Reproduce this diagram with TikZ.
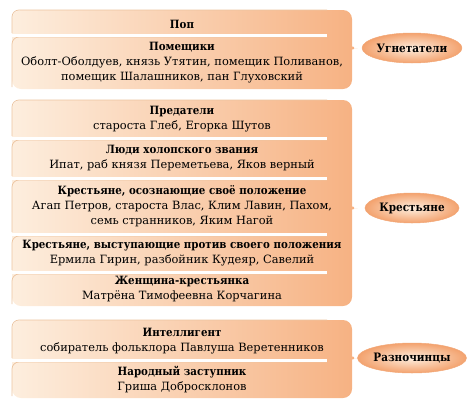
\documentclass[tikz,border=0pt]{standalone}
\usepackage{fontspec}
\setmainfont{DejaVu Serif}[BoldFeatures={FakeStretch=0.9}]
\usetikzlibrary{positioning,shapes.geometric}

\definecolor{peachL}{RGB}{253,238,222}
\definecolor{peachR}{RGB}{246,176,128}
\definecolor{peachLine}{RGB}{236,196,160}
\definecolor{peachEdge}{RGB}{242,168,120}
\definecolor{peachO}{RGB}{243,162,110}

\newcommand\head[1]{\textbf{#1}}

\tikzset{
  grp/.style={left color=peachL, right color=peachR, rounded corners=9},
  sep/.style={white, line width=3pt},
  tab/.style={peachLine, line width=0.7pt, rounded corners=7},
  item/.style={align=center, inner sep=0pt, font=\fontsize{11.4}{15}\selectfont},
  kind/.style={ellipse, minimum width=94pt, minimum height=30pt, inner sep=0pt,
    draw=peachEdge, line width=0.5pt, inner color=peachL, outer color=peachO,
    font=\bfseries\fontsize{11.6}{13}\selectfont},
}

\begin{document}
\begin{tikzpicture}[x=1pt,y=-1pt]
	\useasboundingbox (0,0) rectangle (474,410);
	% group boxes with pointers
	\shade[grp] (12,50) -- (12,10) -- (352,10) -- (352,40) .. controls (352,44) and (355,48) .. (363,48) .. controls (355,48) and (352,52) .. (352,56) -- (352,89) -- (12,89) -- cycle;
	\shade[grp] (12,200) -- (12,100) -- (352,100) -- (352,200) .. controls (352,204) and (355,208) .. (363,208) .. controls (355,208) and (352,212) .. (352,216) -- (352,306) -- (12,306) -- cycle;
	\shade[grp] (12,340) -- (12,320) -- (352,320) -- (352,350) .. controls (352,354) and (355,358) .. (363,358) .. controls (355,358) and (352,362) .. (352,366) -- (352,398) -- (12,398) -- cycle;
	% tabs
	\foreach \t/\b in {10/33, 37/87, 100/136, 140/176, 180/232, 236/270, 274/304, 320/358, 362/396}
		\draw[tab] (12,\b) |- (327,\t);
	% separators
	\foreach \s in {35, 138, 178, 234, 272, 360}
		\draw[sep] (10,\s) -- (327,\s);
	% items
	\node[item] (pop) at (182,24) {\head{Поп}};
	\node[item] (pomeshchiki) at (182,63) {\head{Помещики}\\Оболт-Оболдуев, князь Утятин, помещик Поливанов,\\помещик Шалашников, пан Глуховский};
	\node[item] (predateli) at (182,119.5) {\head{Предатели}\\староста Глеб, Егорка Шутов};
	\node[item] (kholopy) at (182,158.5) {\head{Люди холопского звания}\\Ипат, раб князя Переметьева, Яков верный};
	\node[item] (osoznayushchie) at (182,206.5) {\head{Крестьяне, осознающие своё положение}\\Агап Петров, староста Влас, Клим Лавин, Пахом,\\семь странников, Яким Нагой};
	\node[item] (protiv) at (182,253.5) {\head{Крестьяне, выступающие против своего положения}\\Ермила Гирин, разбойник Кудеяр, Савелий};
	\node[item] (zhenshchina) at (182,289) {\head{Женщина-крестьянка}\\Матрёна Тимофеевна Корчагина};
	\node[item] (intelligent) at (182,341.5) {\head{Интеллигент}\\собиратель фольклора Павлуша Веретенников};
	\node[item] (zastupnik) at (182,379.5) {\head{Народный заступник}\\Гриша Добросклонов};
	% kinds
	\node[kind] (ugnetateli) at (412,48) {Угнетатели};
	\node[kind] (krestyane) at (412,208) {Крестьяне};
	\node[kind] (raznochintsy) at (412,358) {Разночинцы};
\end{tikzpicture}
\end{document}
